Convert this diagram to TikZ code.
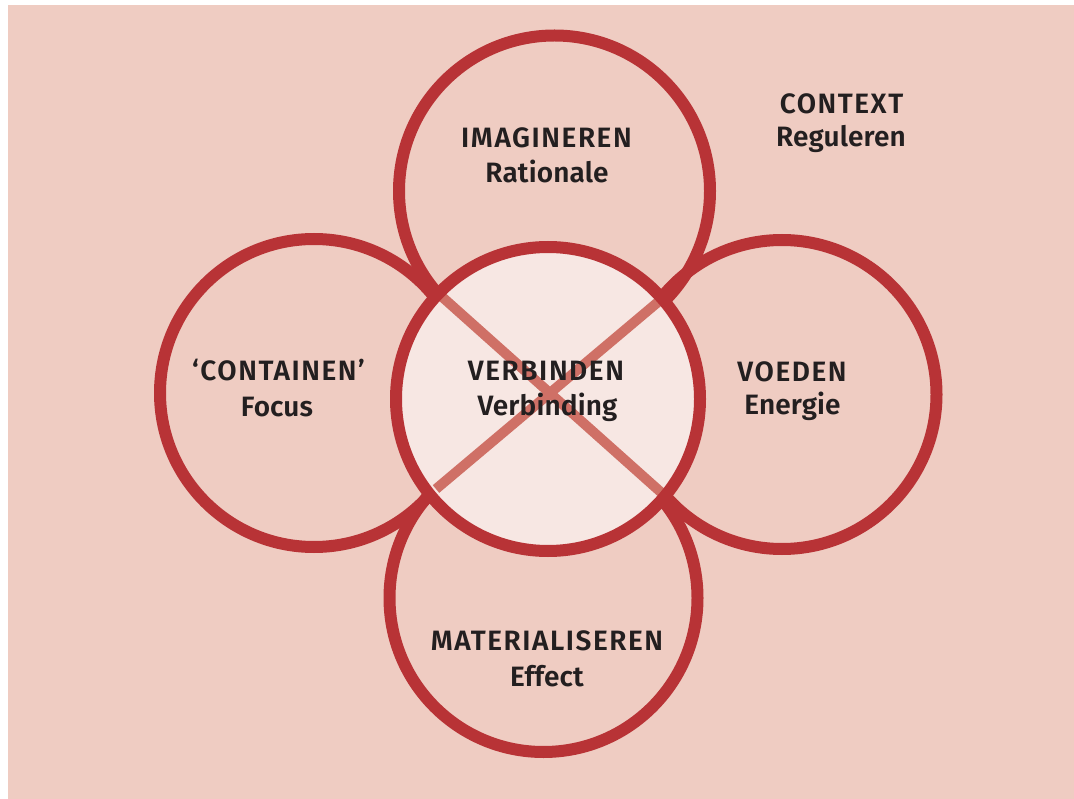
\documentclass[tikz,border=0pt]{standalone}
\usepackage{fontspec}
\newfontfamily\capfont{Fira Sans SemiBold}[LetterSpace=5.5]
\newfontfamily\lowfont{Fira Sans SemiBold}[LetterSpace=0.5]
\definecolor{bgpink}{HTML}{EFCCC2}
\definecolor{ringred}{HTML}{B83336}
\definecolor{corefill}{HTML}{F7E7E3}
\definecolor{crossred}{HTML}{CF7066}
\definecolor{ink}{HTML}{231F20}
\begin{document}
\begin{tikzpicture}[x=1pt,y=-1pt,
  ring/.style={draw=ringred, line width=12pt},
  crossline/.style={draw=crossred, line width=10pt},
  caplab/.style={text=ink, font=\capfont\fontsize{28}{35}\selectfont, inner sep=0pt, anchor=base},
  lowlab/.style={text=ink, font=\lowfont\fontsize{28}{35}\selectfont, inner sep=0pt, anchor=base}]
\useasboundingbox (0,0) rectangle (1074,799);
\fill[white] (0,0) rectangle (1074,799);
\fill[bgpink] (8,5) rectangle (1074,799);
% circle centres
\coordinate (ctop) at (554.5,191);
\coordinate (cleft) at (314,393);
\coordinate (cmid) at (548,399);
\coordinate (cright) at (782,394.5);
\coordinate (cbot) at (543.5,598);
% outer rings
\draw[ring] (ctop) circle[radius=155.5pt];
\draw[ring] (cleft) circle[radius=154pt];
\draw[ring] (cright) circle[radius=154.5pt];
\draw[ring] (cbot) circle[radius=154pt];
% centre disc
\fill[corefill] (cmid) circle[radius=152pt];
\coordinate (xa) at (440,295);
\coordinate (xb) at (664,495);
\coordinate (xc) at (664,297);
\coordinate (xd) at (436,489);
\draw[crossline] (xa) -- (xb);
\draw[crossline] (xc) -- (xd);
\draw[ring] (cmid) circle[radius=152pt];
% labels
\node[caplab] (imag1) at (546.5,148) {IMAGINEREN};
\node[lowlab] (imag2) at (547,183) {Rationale};
\node[caplab] (cont1) at (278.5,381) {‘CONTAINEN’};
\node[lowlab] (cont2) at (277,416.5) {Focus};
\node[caplab] (verb1) at (546,380.5) {VERBINDEN};
\node[lowlab] (verb2) at (547.5,416) {Verbinding};
\node[caplab] (voed1) at (792,381.5) {VOEDEN};
\node[lowlab] (voed2) at (792.5,415) {Energie};
\node[caplab] (mat1) at (547,650.5) {MATERIALISEREN};
\node[lowlab] (mat2) at (547,686) {Effect};
\node[caplab] (ctx1) at (841.5,113.5) {CONTEXT};
\node[lowlab] (ctx2) at (841,147) {Reguleren};
\end{tikzpicture}
\end{document}
